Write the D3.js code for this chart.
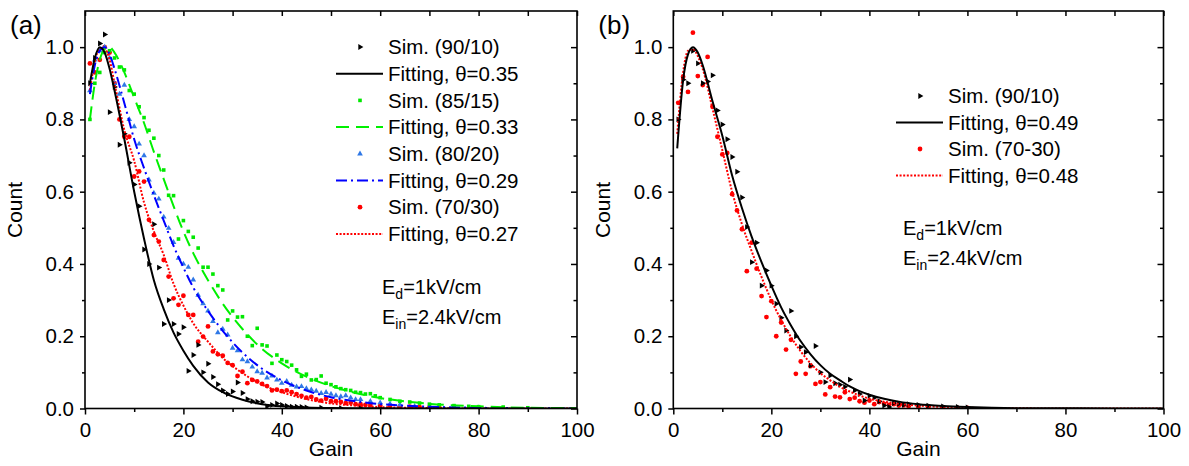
<!DOCTYPE html>
<html>
<head>
<meta charset="utf-8">
<script src="https://cdn.jsdelivr.net/npm/d3@7/dist/d3.min.js"></script>
<style>
  body { margin: 0; background: #fff; }
  svg { display: block; }
  text { font-family: "Liberation Sans", Arial, sans-serif; fill: #000; }
</style>
</head>
<body>
<svg id="chart" width="1189" height="466"></svg>
<script>
// ---- panel (a) fitted curves ----
const fitGainA = [1, 2, 3, 4, 5, 6, 8, 10, 12, 14, 16, 18, 20, 22, 25, 28, 32, 36, 40, 45, 50, 55, 60, 65, 70, 80, 90, 100];
const fitA90 = [0.90, 0.97, 1.0, 0.985, 0.94, 0.88, 0.745, 0.60, 0.47, 0.355, 0.275, 0.21, 0.16, 0.118, 0.072, 0.045, 0.024, 0.012, 0.006, 0.003, 0.0015, 0.0008, 0.0004, 0.0002, 0.0001, 0, 0, 0];
const fitA85 = [0.80, 0.90, 0.965, 0.995, 1.0, 0.985, 0.93, 0.86, 0.79, 0.71, 0.635, 0.56, 0.49, 0.43, 0.355, 0.29, 0.22, 0.165, 0.125, 0.088, 0.062, 0.043, 0.029, 0.02, 0.013, 0.006, 0.002, 0.001];
const fitA80 = [0.87, 0.95, 0.99, 1.0, 0.98, 0.94, 0.845, 0.745, 0.665, 0.59, 0.52, 0.45, 0.39, 0.335, 0.27, 0.215, 0.155, 0.11, 0.078, 0.05, 0.031, 0.02, 0.012, 0.008, 0.005, 0.002, 0.001, 0];
const fitA70 = [0.88, 0.96, 0.995, 0.995, 0.965, 0.90, 0.77, 0.685, 0.57, 0.49, 0.425, 0.345, 0.285, 0.236, 0.185, 0.14, 0.098, 0.066, 0.045, 0.026, 0.014, 0.008, 0.004, 0.002, 0.001, 0, 0, 0];

// ---- panel (a) simulated points ----
const simGainA90 = [1,2,3,4,5,6,7,8,9,10,11,12,13,14,15,16,17,18,19,20,21,22,23,24,25,26,27,28,29,30,31,32,33,34,35,36,37,38,39,40,41,42,43,44,45,48,52,56,60];
const simA90 = [0.90,0.97,1.01,1.035,0.82,0.89,0.73,0.76,0.68,0.62,0.56,0.44,0.40,0.51,0.39,0.234,0.30,0.234,0.206,0.225,0.104,0.148,0.176,0.10,0.124,0.087,0.067,0.05,0.04,0.047,0.072,0.043,0.026,0.02,0.019,0.018,0.006,0.01,0.014,0.01,0.007,0.005,0.005,0.004,0.003,0.002,0.001,0.001,0];

const simGainA85 = [1,2,3,4,5,6,7,8,9,10,11,12,13,14,15,16,17,18,19,20,21,22,23,24,25,26,27,28,29,30,31,32,33,34,35,36,37,38,39,40,41,42,43,44,45,46,47,48,49,50,51,52,53,54,55,56,57,58,59,60,62,64,66,68,70,72,75,78,80,85,90];
const simA85 = [0.80,0.90,0.93,0.985,0.99,0.97,0.945,0.937,0.88,0.87,0.835,0.805,0.77,0.748,0.70,0.66,0.59,0.589,0.469,0.52,0.49,0.474,0.444,0.391,0.391,0.372,0.34,0.328,0.245,0.27,0.253,0.254,0.20,0.174,0.222,0.176,0.173,0.125,0.148,0.135,0.13,0.12,0.107,0.089,0.095,0.079,0.08,0.09,0.07,0.066,0.06,0.055,0.052,0.05,0.045,0.044,0.04,0.041,0.035,0.03,0.025,0.02,0.018,0.015,0.012,0.01,0.008,0.006,0.005,0.004,0.002];

const simGainA80 = [1,2,3,4,5,6,7,8,9,10,11,12,13,14,15,16,17,18,19,20,21,22,23,24,25,26,27,28,29,30,31,32,33,34,35,36,37,38,39,40,41,42,43,44,45,46,47,48,49,50,51,52,53,54,55,56,58,60,62,64,67,70,75,80];
const simA80 = [0.88,0.965,0.99,1.0,0.97,0.90,0.87,0.895,0.80,0.78,0.732,0.70,0.633,0.596,0.58,0.53,0.499,0.46,0.416,0.40,0.391,0.356,0.314,0.29,0.27,0.241,0.21,0.22,0.204,0.167,0.16,0.135,0.13,0.115,0.102,0.098,0.085,0.09,0.079,0.07,0.075,0.065,0.06,0.061,0.055,0.052,0.048,0.042,0.045,0.04,0.036,0.033,0.036,0.03,0.025,0.025,0.02,0.016,0.013,0.01,0.006,0.004,0.003,0.002];

const simGainA70 = [1,2,3,4,5,6,7,8,9,10,11,12,13,14,15,16,17,18,19,20,21,22,23,24,25,26,27,28,29,30,31,32,33,34,35,36,37,38,39,40,41,42,43,44,45,46,47,48,49,50,51,52,53,54,55,56,57,58,60,62,64,66,68,70,72,75];
const simA70 = [0.955,0.93,0.965,1.0,0.985,0.90,0.80,0.752,0.752,0.642,0.656,0.628,0.522,0.48,0.462,0.411,0.365,0.305,0.287,0.312,0.259,0.259,0.185,0.199,0.227,0.158,0.15,0.146,0.126,0.12,0.09,0.102,0.07,0.079,0.075,0.068,0.062,0.05,0.052,0.048,0.05,0.045,0.04,0.035,0.03,0.032,0.025,0.022,0.027,0.02,0.02,0.018,0.015,0.016,0.012,0.012,0.01,0.01,0.008,0.007,0.006,0.005,0.004,0.003,0.003,0.002];

// ---- panel (b) fitted curves ----
const fitGainB = [0.8, 2, 3, 4, 5, 6, 8, 10, 12, 14, 16, 18, 20, 22, 24, 26, 28, 30, 32, 34, 36, 38, 40, 43, 46, 50, 55, 60, 65, 70, 80, 90, 100];
const fitB90 = [0.72, 0.908, 0.98, 1.0, 0.985, 0.95, 0.85, 0.755, 0.645, 0.555, 0.475, 0.405, 0.34, 0.28, 0.23, 0.186, 0.15, 0.12, 0.096, 0.078, 0.061, 0.048, 0.038, 0.027, 0.019, 0.012, 0.007, 0.004, 0.002, 0.001, 0.0005, 0, 0];
const fitB70 = [0.76, 0.93, 0.99, 0.995, 0.975, 0.94, 0.83, 0.715, 0.60, 0.51, 0.435, 0.364, 0.30, 0.245, 0.198, 0.158, 0.125, 0.098, 0.078, 0.06, 0.047, 0.036, 0.027, 0.019, 0.013, 0.008, 0.004, 0.002, 0.001, 0.0006, 0, 0, 0];

// ---- panel (b) simulated points ----
const simGainB90 = [1,2,3,4,5,6,7,8,9,10,11,12,13,14,15,16,17,18,19,20,21,22,23,24,25,26,27,28,29,30,31,32,33,34,35,36,37,38,39,40,41,42,43,44,45,46,47,48,50,52,55,58,60];
const simB90 = [0.80,0.91,0.90,0.99,0.955,0.90,0.905,0.922,0.825,0.786,0.745,0.696,0.655,0.584,0.502,0.405,0.459,0.34,0.382,0.34,0.29,0.251,0.216,0.27,0.2,0.17,0.156,0.119,0.173,0.1,0.073,0.091,0.07,0.066,0.06,0.08,0.05,0.04,0.022,0.035,0.03,0.02,0.008,0.004,0.015,0.013,0.01,0.012,0.01,0.008,0.006,0.004,0.003];

const simGainB70 = [1,2,3,4,5,6,7,8,9,10,11,12,13,14,15,16,17,18,19,20,21,22,23,24,25,26,27,28,29,30,31,32,33,34,35,36,37,38,39,40,41,42,43,44,45,46,47,48,50,52,55,58,60];
const simB70 = [0.846,0.918,0.876,1.04,0.92,0.895,0.973,0.835,0.752,0.703,0.707,0.593,0.548,0.496,0.38,0.459,0.387,0.311,0.253,0.297,0.2,0.238,0.163,0.19,0.096,0.13,0.096,0.117,0.068,0.073,0.039,0.059,0.033,0.031,0.045,0.026,0.03,0.02,0.016,0.022,0.012,0.018,0.013,0.01,0.012,0.008,0.009,0.006,0.005,0.004,0.003,0.002,0.002];

const xTicks = [0, 20, 40, 60, 80, 100];
const xMinor = [10, 30, 50, 70, 90];
const yTicks = [0, 0.2, 0.4, 0.6, 0.8, 1.0];
const yMinor = [0.1, 0.3, 0.5, 0.7, 0.9];

const svg = d3.select('#chart');
const zip = (g, v) => g.map((d, i) => [d, v[i]]);

const styles = {
    k: { color: '#000', dash: null, width: 2, marker: 'tri', mcolor: '#000' },
    g: { color: '#00f000', dash: '13,7', width: 2, marker: 'sq', mcolor: '#00e800' },
    b: { color: '#0000ff', dash: '11,4,2,4', width: 2, marker: 'up', mcolor: '#2f78e6' },
    r: { color: '#ff0000', dash: '2,1.6', width: 2, marker: 'dot', mcolor: '#ff0000' }
};

function drawMarker(g, type, color, px, py) {
    if (type === 'dot') {
        g.append('circle').attr('cx', px).attr('cy', py).attr('r', 2.4).attr('fill', color);
    } else if (type === 'sq') {
        g.append('rect').attr('x', px - 1.8).attr('y', py - 1.8).attr('width', 3.6).attr('height', 3.6).attr('fill', color);
    } else {
        const sym = d3.symbol().type(d3.symbolTriangle).size(type === 'tri' ? 15 : 14);
        g.append('path').attr('d', sym())
            .attr('transform', `translate(${px},${py}) rotate(${type === 'tri' ? 90 : 0})`)
            .attr('fill', color);
    }
}

function drawPanel(cfg) {
    const x = d3.scaleLinear().domain([0, 100]).range([cfg.x0, cfg.x1]);
    const y = d3.scaleLinear().domain([0, 1.1]).range([408.5, 11]);
    const g = svg.append('g');

    g.append('defs').append('clipPath').attr('id', 'clip' + cfg.id)
        .append('rect').attr('x', cfg.x0).attr('y', 11)
        .attr('width', cfg.x1 - cfg.x0).attr('height', 397.5);

    const plot = g.append('g').attr('clip-path', `url(#clip${cfg.id})`);
    const line = d3.line().x(d => x(d[0])).y(d => y(d[1])).curve(d3.curveMonotoneX);

    // simulated points first, fits on top
    cfg.series.forEach(s => {
        const st = styles[s.key];
        zip(s.simGain, s.sim).forEach(d => drawMarker(plot, st.marker, st.mcolor, x(d[0]), y(d[1])));
    });
    cfg.series.forEach(s => {
        const st = styles[s.key];
        plot.append('path')
            .datum(zip(s.fitGain, s.fit))
            .attr('fill', 'none')
            .attr('stroke', st.color)
            .attr('stroke-width', st.width)
            .attr('stroke-dasharray', st.dash)
            .attr('d', line);
    });

    // axes
    const fontSize = '20.5px';
    g.append('g').attr('transform', 'translate(0,408.5)')
        .call(d3.axisBottom(x).tickValues(xTicks).tickSize(6).tickPadding(8).tickFormat(d3.format('d')));
    g.append('g').attr('transform', 'translate(0,408.5)')
        .call(d3.axisBottom(x).tickValues(xMinor).tickSize(3.5).tickFormat(''));
    g.append('g').attr('transform', `translate(${cfg.x0},0)`)
        .call(d3.axisLeft(y).tickValues(yTicks).tickSize(5).tickPadding(6).tickFormat(d3.format('.1f')));
    g.append('g').attr('transform', `translate(${cfg.x0},0)`)
        .call(d3.axisLeft(y).tickValues(yMinor).tickSize(3).tickFormat(''));
    g.append('g').attr('transform', 'translate(0,11)')
        .call(d3.axisTop(x).tickValues(xTicks.concat(xMinor)).tickSize(-5).tickFormat(''));
    g.append('g').attr('transform', `translate(${cfg.x1},0)`)
        .call(d3.axisRight(y).tickValues(yTicks).tickSize(-6).tickFormat(''));
    g.append('g').attr('transform', `translate(${cfg.x1},0)`)
        .call(d3.axisRight(y).tickValues(yMinor).tickSize(-3.5).tickFormat(''));

    g.selectAll('.domain').remove();
    g.selectAll('.tick line').attr('stroke', '#000').attr('stroke-width', 1.5);
    g.selectAll('.tick text').style('font-size', fontSize)
        .style('font-family', '"Liberation Sans", Arial, sans-serif').attr('fill', '#000');

    g.append('rect').attr('x', cfg.x0).attr('y', 11)
        .attr('width', cfg.x1 - cfg.x0).attr('height', 397.5)
        .attr('fill', 'none').attr('stroke', '#000').attr('stroke-width', 1.6);

    // titles
    g.append('text').attr('x', (cfg.x0 + cfg.x1) / 2).attr('y', 456)
        .attr('text-anchor', 'middle').style('font-size', '21px').text('Gain');
    g.append('text').attr('transform', `translate(${cfg.x0 - 63},210) rotate(-90)`)
        .attr('text-anchor', 'middle').style('font-size', '21px').text('Count');
    g.append('text').attr('x', cfg.x0 - 75).attr('y', 34)
        .style('font-size', '26px').text(cfg.label);

    // legend
    const lg = g.append('g');
    cfg.legend.forEach((item, i) => {
        const ly = cfg.legY + i * cfg.legStep;
        const st = styles[item.key];
        if (item.type === 'sim') {
            drawMarker(lg, st.marker, st.mcolor, cfg.legX - 28, ly);
        } else {
            lg.append('line').attr('x1', cfg.legX - 52).attr('x2', cfg.legX - 5)
                .attr('y1', ly).attr('y2', ly)
                .attr('stroke', st.color).attr('stroke-width', st.width)
                .attr('stroke-dasharray', st.dash);
        }
        lg.append('text').attr('x', cfg.legX).attr('y', ly).attr('dy', '0.35em')
            .style('font-size', '20.5px').text(item.text);
    });

    // field annotation
    const ann = [['E', 'd', '=1kV/cm'], ['E', 'in', '=2.4kV/cm']];
    ann.forEach((a, i) => {
        const t = g.append('text').attr('x', cfg.annX).attr('y', cfg.annY + i * 30)
            .attr('dy', '0.35em').style('font-size', '20px');
        t.append('tspan').text(a[0]);
        t.append('tspan').attr('dy', 5).style('font-size', '14px').text(a[1]);
        t.append('tspan').attr('dy', -5).text(a[2]);
    });
}

drawPanel({
    id: 'a', label: '(a)', x0: 85, x1: 577,
    series: [
        { key: 'r', simGain: simGainA70, sim: simA70, fitGain: fitGainA, fit: fitA70 },
        { key: 'b', simGain: simGainA80, sim: simA80, fitGain: fitGainA, fit: fitA80 },
        { key: 'g', simGain: simGainA85, sim: simA85, fitGain: fitGainA, fit: fitA85 },
        { key: 'k', simGain: simGainA90, sim: simA90, fitGain: fitGainA, fit: fitA90 }
    ],
    legend: [
        { key: 'k', type: 'sim', text: 'Sim. (90/10)' },
        { key: 'k', type: 'fit', text: 'Fitting, θ=0.35' },
        { key: 'g', type: 'sim', text: 'Sim. (85/15)' },
        { key: 'g', type: 'fit', text: 'Fitting, θ=0.33' },
        { key: 'b', type: 'sim', text: 'Sim. (80/20)' },
        { key: 'b', type: 'fit', text: 'Fitting, θ=0.29' },
        { key: 'r', type: 'sim', text: 'Sim. (70/30)' },
        { key: 'r', type: 'fit', text: 'Fitting, θ=0.27' }
    ],
    legX: 388, legY: 47, legStep: 26.7,
    annX: 382, annY: 287
});

drawPanel({
    id: 'b', label: '(b)', x0: 673.3, x1: 1163.5,
    series: [
        { key: 'r', simGain: simGainB70, sim: simB70, fitGain: fitGainB, fit: fitB70 },
        { key: 'k', simGain: simGainB90, sim: simB90, fitGain: fitGainB, fit: fitB90 }
    ],
    legend: [
        { key: 'k', type: 'sim', text: 'Sim. (90/10)' },
        { key: 'k', type: 'fit', text: 'Fitting, θ=0.49' },
        { key: 'r', type: 'sim', text: 'Sim. (70-30)' },
        { key: 'r', type: 'fit', text: 'Fitting, θ=0.48' }
    ],
    legX: 948, legY: 96, legStep: 26.5,
    annX: 903, annY: 228
});
</script>
</body>
</html>
